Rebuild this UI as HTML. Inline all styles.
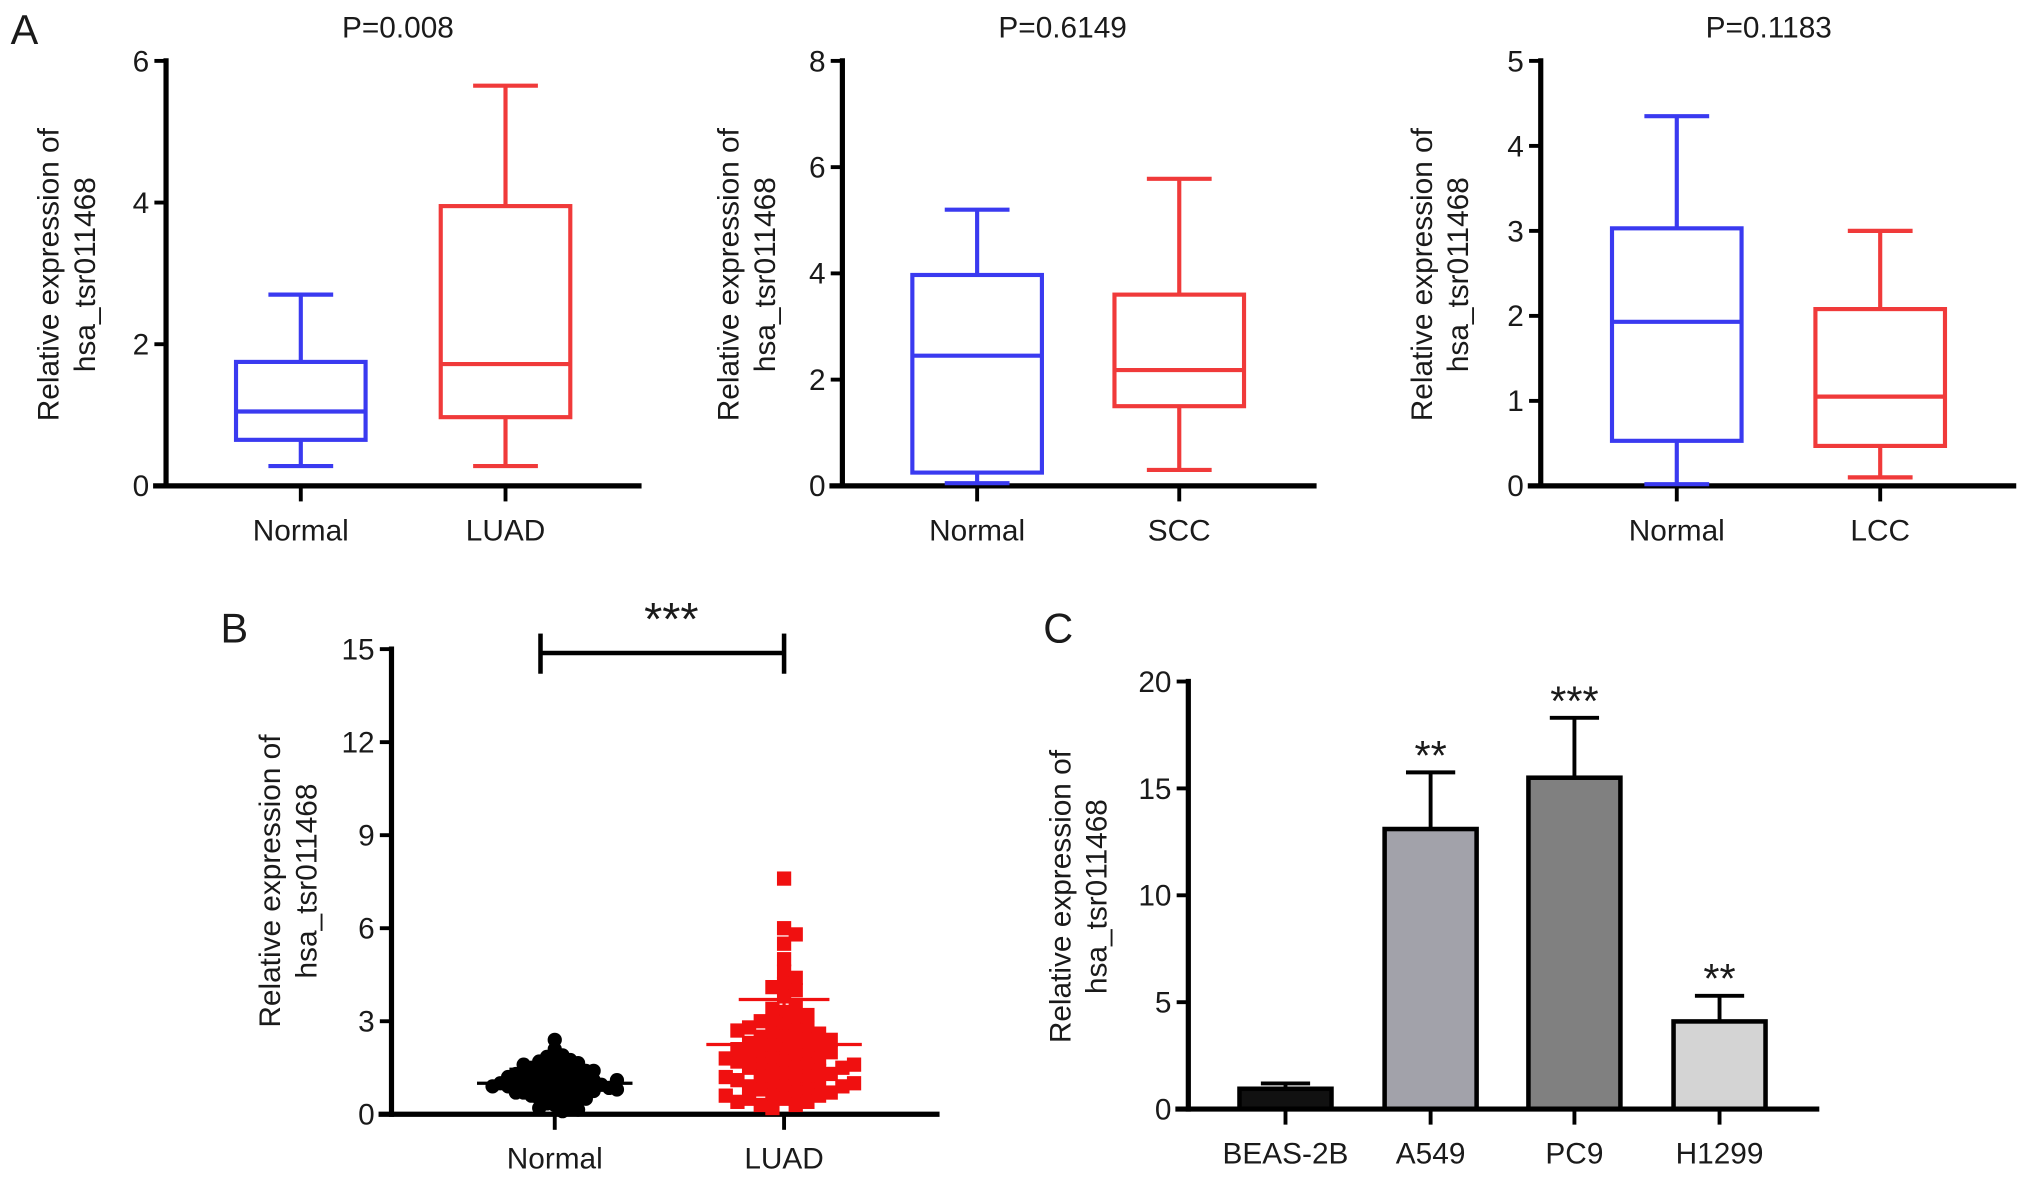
<!DOCTYPE html>
<html><head><meta charset="utf-8">
<style>
html,body{margin:0;padding:0;background:#fff;}
svg{display:block;}
text{font-family:"Liberation Sans",Arial,sans-serif;fill:#1a1a1a;}
</style></head>
<body>
<svg id="fig" width="2032" height="1192" viewBox="0 0 1568 920" xmlns="http://www.w3.org/2000/svg"></svg>
<script>
// ---- Panel A data (box plots) ----
const a1Cats = ["Normal","LUAD"];
const a1Min = [0.28,0.28], a1Q1=[0.65,0.97], a1Med=[1.05,1.72], a1Q3=[1.75,3.95], a1Max=[2.7,5.65];
const a1Ticks = [0,2,4,6];
const a2Cats = ["Normal","SCC"];
const a2Min = [0.05,0.3], a2Q1=[0.25,1.5], a2Med=[2.45,2.18], a2Q3=[3.97,3.6], a2Max=[5.2,5.78];
const a2Ticks = [0,2,4,6,8];
const a3Cats = ["Normal","LCC"];
const a3Min = [0.02,0.1], a3Q1=[0.53,0.47], a3Med=[1.93,1.05], a3Q3=[3.03,2.08], a3Max=[4.35,3.0];
const a3Ticks = [0,1,2,3,4,5];
// ---- Panel B data (scatter) ----
const bCats = ["Normal","LUAD"];
const bTicks = [0,3,6,9,12,15];
const bNormal = [2.4,2.1,1.9,1.85,1.8,1.75,1.7,1.65,1.6,1.55,1.5,1.5,1.45,1.4,1.4,1.35,1.3,1.3,1.25,1.2,1.2,1.15,1.1,1.1,1.1,1.05,1.0,1.0,1.0,0.95,0.95,0.9,0.9,0.9,0.85,0.85,0.8,0.8,0.75,0.75,0.7,0.7,0.65,0.6,0.6,0.55,0.5,0.5,0.45,0.4,0.35,0.3,0.25,0.2,0.15,0.1,1.2,1.0,0.8,1.4,1.6,0.9,1.1,0.7,1.3];
const bLuad = [7.6,6.0,5.8,5.5,5.0,4.6,4.4,4.2,4.1,4.0,3.8,3.5,3.3,3.1,3.0,2.9,2.8,2.7,2.6,2.5,2.5,2.4,2.3,2.2,2.2,2.1,2.0,2.0,1.9,1.8,1.8,1.7,1.6,1.6,1.5,1.5,1.4,1.4,1.3,1.2,1.2,1.1,1.0,1.0,0.9,0.9,0.8,0.8,0.7,0.6,0.6,0.5,0.5,0.4,0.3,0.3,0.2,2.6,1.9,1.3,0.7,3.2,2.0,1.1,2.8,2.3,1.7,1.5,0.9,0.4,3.0,2.4,1.8,1.2,0.6,2.1,1.6,1.0,2.7,3.4];
const bMean = [1.0,2.25], bSD = [1.45,3.7];
// ---- Panel C data (bars) ----
const cCats = ["BEAS-2B","A549","PC9","H1299"];
const cVals = [0.95,13.1,15.5,4.1];
const cErr = [1.2,15.75,18.3,5.3];
const cSig = ["","**","***","**"];
const cTicks = [0,5,10,15,20];
const cFill = ["#111","#a2a2aa","#808080","#d4d4d4"];

const svg = document.getElementById('fig');
const NS = "http://www.w3.org/2000/svg";
function el(tag, attrs, parent){const e=document.createElementNS(NS,tag);for(const k in attrs)e.setAttribute(k,attrs[k]);(parent||svg).appendChild(e);return e;}
function txt(s, attrs, parent){const e=el('text',attrs,parent);e.textContent=s;return e;}

function yLabel(g, x, cy){
  const t1 = txt("Relative expression of",{x:0,y:0,'font-size':23,'text-anchor':'middle',transform:`translate(${x},${cy}) rotate(-90)`},g);
   
  const t2 = txt("hsa_tsr011468",{x:0,y:0,'font-size':23,'text-anchor':'middle',transform:`translate(${x+28},${cy}) rotate(-90)`},g);
   
}

function axes(g, ax){
  el('line',{x1:ax.x0,y1:ax.yTop-2,x2:ax.x0,y2:ax.y0+2,stroke:'#000','stroke-width':4},g);
  el('line',{x1:ax.x0-10,y1:ax.y0,x2:ax.xEnd,y2:ax.y0,stroke:'#000','stroke-width':4},g);
  ax.ticks.forEach(t=>{
    const y=ax.sy(t);
    const tl=el('line',{x1:ax.x0-9,y1:y,x2:ax.x0,y2:y,stroke:'#000','stroke-width':3},g);
    
    const lb=txt(String(t),{x:ax.x0-13,y:y+8,'font-size':23,'text-anchor':'end'},g);
     
  });
  ax.cats.forEach((c,i)=>{
    const x=ax.cx[i];
    el('line',{x1:x,y1:ax.y0,x2:x,y2:ax.y0+12,stroke:'#000','stroke-width':3},g);
    const lb=txt(c,{x:x,y:ax.y0+42,'font-size':23,'text-anchor':'middle'},g);
     
  });
}

function boxPanel(name, x0, xEnd, cx, ticks, cats, mn,q1,md,q3,mx, title, titleX, lblX){
  const g=el('g',{});
   
  const yTop=47,y0=375, vmax=ticks[ticks.length-1];
  const sy=v=>y0-(v/vmax)*(y0-yTop);
  axes(g,{x0,xEnd,yTop,y0,ticks,sy,cats,cx});
  const cols=['#3a3af0','#f03a3a'];
  cats.forEach((c,i)=>{
    const bg=el('g',{stroke:cols[i],'stroke-width':3.2,fill:'none'},g);
     
    const x=cx[i], hw=50, cw=25;
    el('line',{x1:x,y1:sy(mx[i]),x2:x,y2:sy(q3[i])},bg);
    el('line',{x1:x,y1:sy(q1[i]),x2:x,y2:sy(mn[i])},bg);
    el('line',{x1:x-cw,y1:sy(mx[i]),x2:x+cw,y2:sy(mx[i])},bg);
    el('line',{x1:x-cw,y1:sy(mn[i]),x2:x+cw,y2:sy(mn[i])},bg);
    el('rect',{x:x-hw,y:sy(q3[i]),width:2*hw,height:sy(q1[i])-sy(q3[i])},bg);
    el('line',{x1:x-hw,y1:sy(md[i]),x2:x+hw,y2:sy(md[i])},bg);
  });
  const t=txt(title,{x:titleX,y:29,'font-size':23,'text-anchor':'middle'},g);
   
  yLabel(g,lblX,212);
}

const lA=txt("A",{x:8,y:34,'font-size':32});
 
boxPanel('panel-a-luad',128,495,[232,390],a1Ticks,a1Cats,a1Min,a1Q1,a1Med,a1Q3,a1Max,"P=0.008",307,45);
boxPanel('panel-a-scc',650,1016,[754,910],a2Ticks,a2Cats,a2Min,a2Q1,a2Med,a2Q3,a2Max,"P=0.6149",820,570);
boxPanel('panel-a-lcc',1189,1556,[1294,1451],a3Ticks,a3Cats,a3Min,a3Q1,a3Med,a3Q3,a3Max,"P=0.1183",1365,1105);

// ---- Panel B ----
(function(){
  const g=el('g',{});
   
  const lB=txt("B",{x:170,y:496,'font-size':32},g);
   
  const x0=302,xEnd=725,yTop=501,y0=860,cx=[428,605];
  const sy=v=>y0-(v/15)*(y0-yTop);
  axes(g,{x0,xEnd,yTop,y0,ticks:bTicks,sy,cats:bCats,cx});
  const series=[bNormal,bLuad], cols=['#000','#f01010'], steps=[6,9];
  series.forEach((vals,si)=>{
    const sg=el('g',{fill:cols[si]},g);
     
    const placed=[]; const d=steps[si], maxOff=58;
    vals.forEach(v=>{
      const y=sy(v); let off=0, k=0;
      while(true){
        const cand = k===0?0:(k%2?1:-1)*Math.ceil(k/2)*d;
        if(Math.abs(cand)>maxOff){off=((placed.length*17)%(2*maxOff))-maxOff;break;}
        if(!placed.some(p=>Math.abs(p.x-cand)<d&&Math.abs(p.y-y)<d)){off=cand;break;}
        k++;
      }
      placed.push({x:off,y});
      if(si===0){const c=el('circle',{cx:cx[si]+off,cy:y,r:5.5},sg);}
      else{const r=el('rect',{x:cx[si]+off-5.5,y:y-5.5,width:11,height:11},sg);}
    });
    const lg=el('g',{stroke:si?'#f01010':'#000','stroke-width':2.5},g);
    
    el('line',{x1:cx[si]-60,y1:sy(bMean[si]),x2:cx[si]+60,y2:sy(bMean[si])},lg);
    el('line',{x1:cx[si]-35,y1:sy(bSD[si]),x2:cx[si]+35,y2:sy(bSD[si])},lg);
    el('line',{x1:cx[si],y1:sy(bSD[si]),x2:cx[si],y2:sy(bMean[si])},lg);
  });
  const sb=el('g',{stroke:'#000','stroke-width':3.5},g);
   
  el('line',{x1:cx[0]-11,y1:504,x2:cx[1],y2:504},sb);
  el('line',{x1:cx[0]-11,y1:489,x2:cx[0]-11,y2:520},sb);
  el('line',{x1:cx[1],y1:489,x2:cx[1],y2:520},sb);
  const st=txt("***",{x:518,y:490,'font-size':36,'text-anchor':'middle'},g);
   
  yLabel(g,216,680);
})();

// ---- Panel C ----
(function(){
  const g=el('g',{});
   
  const lC=txt("C",{x:805,y:496,'font-size':32},g);
   
  const x0=917,xEnd=1404,yTop=526,y0=856,cx=[992,1104,1215,1327];
  const sy=v=>y0-(v/20)*(y0-yTop);
  const bw=71;
  cCats.forEach((c,i)=>{
    const bg=el('g',{},g);
     
    el('line',{x1:cx[i],y1:sy(cErr[i]),x2:cx[i],y2:sy(cVals[i]),stroke:'#000','stroke-width':3},bg);
    el('line',{x1:cx[i]-19,y1:sy(cErr[i]),x2:cx[i]+19,y2:sy(cErr[i]),stroke:'#000','stroke-width':3},bg);
    el('rect',{x:cx[i]-bw/2,y:sy(cVals[i]),width:bw,height:y0-sy(cVals[i]),fill:cFill[i],stroke:'#000','stroke-width':3.5},bg);
    if(cSig[i]){
      const s=txt(cSig[i],{x:cx[i],y:sy(cErr[i])-2,'font-size':32,'text-anchor':'middle'},g);
       
    }
  });
  axes(g,{x0,xEnd,yTop,y0,ticks:cTicks,sy,cats:cCats,cx});
  yLabel(g,826,692);
})();
</script>
</body></html>
